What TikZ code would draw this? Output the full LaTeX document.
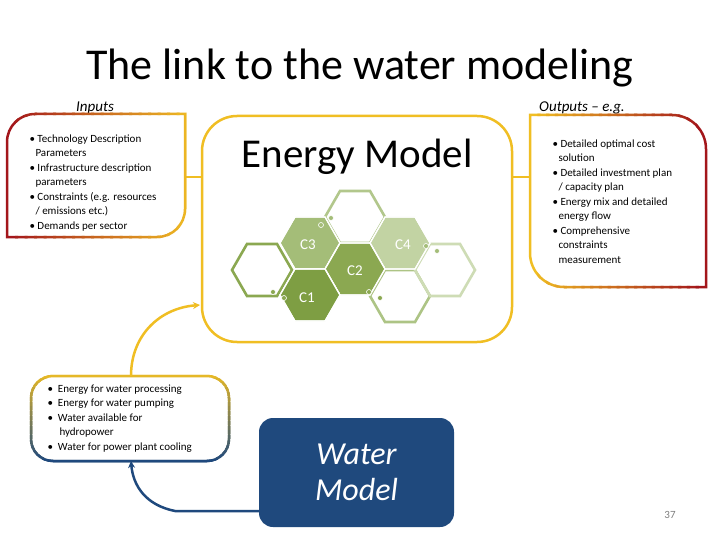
\documentclass[tikz,border=0pt]{standalone}
\usepackage{fontspec}
\setmainfont{Carlito}
\usetikzlibrary{arrows.meta}
\definecolor{ylw}{HTML}{F0BE23}
\definecolor{dred}{HTML}{A3161B}
\definecolor{wblue}{HTML}{1F497D}
\definecolor{hA}{HTML}{A4BD78}
\definecolor{hB}{HTML}{8BA851}
\definecolor{hC}{HTML}{C2D3A3}
\definecolor{hD}{HTML}{7E9E43}
\tikzset{
  bul/.style={font=\fontsize{11}{14.5}\selectfont, align=left, anchor=north west},
  hexf/.style={fill=#1, draw=white, line width=1.2pt},
  hexo/.style={draw=#1, line width=2.6pt},
  dot/.style={circle, fill=#1, draw=white, line width=0.6pt, inner sep=0pt, minimum size=5pt},
}
\newcommand{\hexpath}[2]{(#1+30,#2)--(#1+15,#2+26)--(#1-15,#2+26)--(#1-30,#2)--(#1-15,#2-26)--(#1+15,#2-26)--cycle}
\begin{document}
\begin{tikzpicture}[x=1pt,y=-1pt]
\useasboundingbox (0,0) rectangle (720,540);
\fill[white] (0,0) rectangle (720,540);
\node[font=\fontsize{44}{50}\selectfont] (title) at (360,68) {The link to the water modeling};
\node[font=\fontsize{15}{17}\selectfont\itshape] (inl) at (95,108) {Inputs};
\node[font=\fontsize{15}{17}\selectfont\itshape] (outl) at (582,108) {Outputs -- e.g.};
% connectors between boxes
\coordinate (ia) at (185,177); \coordinate (ea) at (202,177);
\coordinate (eb) at (512,177); \coordinate (ob) at (530,177);
\draw[ylw, line width=2.5pt] (ia) -- (ea);
\draw[ylw, line width=2.5pt] (eb) -- (ob);
% energy box
\draw[ylw, line width=2.5pt, rounded corners=35pt] (202,116) rectangle (512,342);
\node[font=\fontsize{41}{46}\selectfont] (em) at (357,157) {Energy Model};
% input box gradient border
\foreach \i in {0,...,19}{
  \pgfmathsetmacro{\p}{100*\i/19}
  \begin{scope}
  \clip (7+\i*9.5-1.5,100) rectangle (7+\i*9.5+11,245);
  \draw[color=ylw!\p!dred, line width=2.5pt] (7,237) -- (7,142) .. controls (7,126.5) and (19.5,114) .. (35,114) -- (185,114) -- (185,209) .. controls (185,224.5) and (172.5,237) .. (157,237) -- cycle;
  \end{scope}}
\node[bul] (inb) at (26,131) {\textbullet\ Technology Description\\\hspace*{6pt}Parameters\\\textbullet\ Infrastructure description\\\hspace*{6pt}parameters\\\textbullet\ Constraints (e.g. resources\\\hspace*{6pt}/ emissions etc.)\\\textbullet\ Demands per sector};
% output box gradient border
\foreach \i in {0,...,19}{
  \pgfmathsetmacro{\p}{100*\i/19}
  \begin{scope}
  \clip (530+\i*8.8-1.5,100) rectangle (530+\i*8.8+10.5,295);
  \draw[color=dred!\p!ylw, line width=2.5pt] (530,115) -- (672,115) .. controls (690.8,115) and (706,130.2) .. (706,149) -- (706,287) -- (564,287) .. controls (545.2,287) and (530,271.8) .. (530,253) -- cycle;
  \end{scope}}
\node[bul] (outb) at (549,136) {\textbullet\ Detailed optimal cost\\\hspace*{6pt}solution\\\textbullet\ Detailed investment plan\\\hspace*{6pt}/ capacity plan\\\textbullet\ Energy mix and detailed\\\hspace*{6pt}energy flow\\\textbullet\ Comprehensive\\\hspace*{6pt}constraints\\\hspace*{6pt}measurement};
% hexagons
\draw[hexo=hA!85!white] \hexpath{355}{217};
\draw[hexo=hB] \hexpath{262}{270};
\draw[hexo=hA!90!white] \hexpath{400}{296};
\draw[hexo=hC!80!white] \hexpath{445}{270};
\fill[hexf=hA] \hexpath{310}{243}; \draw[white,line width=1.2pt] \hexpath{310}{243};
\fill[hexf=hC] \hexpath{400}{243}; \draw[white,line width=1.2pt] \hexpath{400}{243};
\fill[hexf=hB] \hexpath{355}{269}; \draw[white,line width=1.2pt] \hexpath{355}{269};
\fill[hexf=hD] \hexpath{310}{295}; \draw[white,line width=1.2pt] \hexpath{310}{295};
\node[text=white, font=\fontsize{15}{17}\selectfont] (c3) at (308,245) {C3};
\node[text=white, font=\fontsize{15}{17}\selectfont] (c4) at (403,245) {C4};
\node[text=white, font=\fontsize{15}{17}\selectfont] (c2) at (355,271) {C2};
\node[text=white, font=\fontsize{15}{17}\selectfont] (c1) at (307,298) {C1};
\node[dot=hA] (d1) at (321,225) {}; \node[dot=hA] (d2) at (331,218) {};
\node[dot=hA] (d3) at (426,246) {}; \node[dot=hA] (d4) at (437,251) {};
\node[dot=hB] (d5) at (273,292) {}; \node[dot=hB] (d6) at (284,298) {};
\node[dot=hB] (d7) at (369,292) {}; \node[dot=hB] (d8) at (380,298) {};
% water link box
\foreach \i in {0,...,19}{
  \pgfmathsetmacro{\p}{100*\i/19}
  \begin{scope}
  \clip (20,370+\i*4.8-1.5) rectangle (240,370+\i*4.8+6.3);
  \draw[color=wblue!\p!ylw, line width=2.5pt, rounded corners=22pt] (31,376) rectangle (229,461);
  \end{scope}}
\node[bul] (wb) at (44,381) {\textbullet\ \ Energy for water processing\\\textbullet\ \ Energy for water pumping\\\textbullet\ \ Water available for\\\hspace*{12pt}hydropower\\\textbullet\ \ Water for power plant cooling};
% water model
\node[fill=wblue, rounded corners=14pt, minimum width=195pt, minimum height=109pt, text=white, font=\fontsize{32}{36}\selectfont\itshape, align=center] (wm) at (356.5,472.5) {Water\\Model};
\node[font=\fontsize{11}{13}\selectfont, text=gray] (pg) at (670,515) {37};
% arrows
\coordinate (wtop) at (131,376); \coordinate (eleft) at (200,305);
\draw[ylw, line width=2.5pt, -{Stealth[length=7pt,width=7pt]}] (wtop) .. controls (131,335) and (160,308) .. (eleft);
\coordinate (wml) at (259,511); \coordinate (wbot) at (131,461);
\draw[wblue, line width=2.5pt, -{Stealth[length=7pt,width=7pt]}] (wml) -- (175,511) .. controls (145,505) and (133,485) .. (wbot);
\end{tikzpicture}
\end{document}
